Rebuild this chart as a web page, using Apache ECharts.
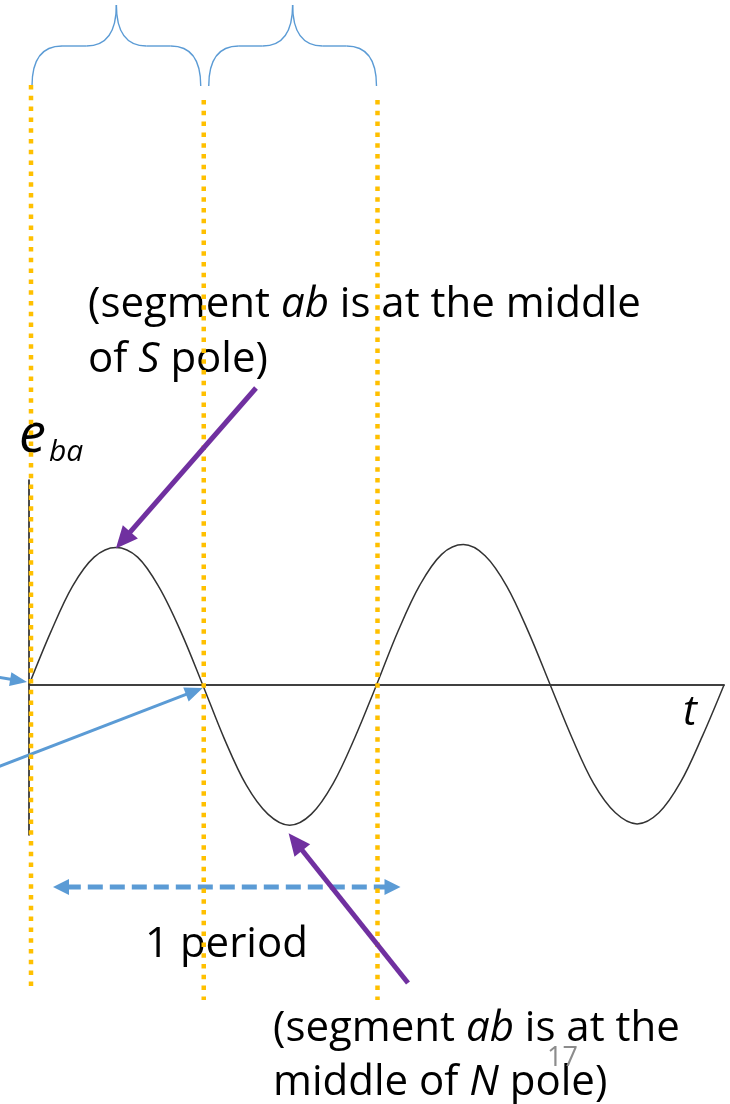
<!DOCTYPE html>
<html>
<head>
<meta charset="utf-8">
<script src="https://cdn.jsdelivr.net/npm/echarts@6/dist/echarts.min.js"></script>
<style>
  html, body { margin: 0; padding: 0; background: #fff; }
  #chart { width: 730px; height: 1104px; }
</style>
</head>
<body>
<div id="chart"></div>
<script>
// Rotation angle of the conductor (degrees) and induced emf e_ba (per-unit of peak)
const angleDeg = [0, 22.5, 45, 67.5, 90, 112.5, 135, 157.5, 180,
  202.5, 225, 247.5, 270, 292.5, 315, 337.5, 360,
  382.5, 405, 427.5, 450, 472.5, 495, 517.5, 540,
  562.5, 585, 607.5, 630, 652.5, 675, 697.5, 720];
const emf = [0, 0.38, 0.71, 0.92, 0.99, 0.92, 0.70, 0.38, 0,
  -0.39, -0.72, -0.93, -1.01, -0.93, -0.71, -0.38, 0,
  0.39, 0.72, 0.94, 1.01, 0.93, 0.71, 0.38, 0,
  -0.38, -0.71, -0.92, -1.0, -0.92, -0.70, -0.37, 0];

// Angles where the dotted guide lines sit (start, half period, full period)
const guideAngles = [0, 180, 360];
const peakAngle = 90;     // middle of S pole
const troughAngle = 270;  // middle of N pole

const FONT = '"Open Sans", Lato, sans-serif';
const BLUE = '#5B9BD5';
const PURPLE = '#7030A0';
const GOLD = '#FFC000';

const chart = echarts.init(document.getElementById('chart'));

chart.setOption({
  animation: false,
  backgroundColor: '#ffffff',
  grid: { left: 29, right: 6, top: 480, bottom: 269, containLabel: false },
  xAxis: {
    type: 'value', min: 0, max: 720,
    axisLine: { onZero: true, lineStyle: { color: '#404040', width: 2 } },
    axisTick: { show: false }, axisLabel: { show: false }, splitLine: { show: false }
  },
  yAxis: {
    type: 'value', min: -1.08, max: 1.475,
    axisLine: { show: true, onZero: false, lineStyle: { color: '#111', width: 1.5 } },
    axisTick: { show: false }, axisLabel: { show: false }, splitLine: { show: false }
  },
  series: [{
    type: 'line',
    data: angleDeg.map((a, i) => [a, emf[i]]),
    smooth: 0.35,
    showSymbol: false,
    lineStyle: { color: '#333', width: 1.5 },
    z: 2
  }]
});

const px = (a, v) => chart.convertToPixel({ gridIndex: 0 }, [a, v]);
const emfAt = a => emf[angleDeg.indexOf(a)];

// Straight arrow with filled head(s)
function arrow(x1, y1, x2, y2, color, width, headLen, headW, opts) {
  opts = opts || {};
  const els = [];
  const dx = x2 - x1, dy = y2 - y1, L = Math.hypot(dx, dy);
  const ux = dx / L, uy = dy / L, nx = -uy, ny = ux;
  const head = (tx, ty, sx, sy) => ({
    type: 'polygon', z: opts.z,
    shape: { points: [[tx, ty],
      [tx - sx * headLen + nx * headW / 2, ty - sy * headLen + ny * headW / 2],
      [tx - sx * headLen - nx * headW / 2, ty - sy * headLen - ny * headW / 2]] },
    style: { fill: color }
  });
  const sx1 = opts.both ? x1 + ux * headLen * 0.8 : x1;
  const sy1 = opts.both ? y1 + uy * headLen * 0.8 : y1;
  els.push({
    type: 'line', z: opts.z,
    shape: { x1: sx1, y1: sy1, x2: x2 - ux * headLen * 0.8, y2: y2 - uy * headLen * 0.8 },
    style: { stroke: color, lineWidth: width, lineDash: opts.dash || null, lineCap: 'butt' }
  });
  els.push(head(x2, y2, ux, uy));
  if (opts.both) els.push(head(x1, y1, -ux, -uy));
  return els;
}

// Curly brace spanning x0..x1, opening downward
function brace(x0, x1, yBot, yMid, yTop) {
  const xm = (x0 + x1) / 2;
  const st = { stroke: BLUE, lineWidth: 1.4, fill: null };
  const z = 5;
  return [
    { type: 'bezierCurve', z, shape: { x1: x0, y1: yBot, cpx1: x0, cpy1: yMid + 14, cpx2: x0 + 9, cpy2: yMid, x2: x0 + 30, y2: yMid }, style: st },
    { type: 'line', z, shape: { x1: x0 + 30, y1: yMid, x2: xm - 30, y2: yMid }, style: st },
    { type: 'bezierCurve', z, shape: { x1: xm - 30, y1: yMid, cpx1: xm - 10, cpy1: yMid, cpx2: xm, cpy2: yMid - 14, x2: xm, y2: yTop }, style: st },
    { type: 'bezierCurve', z, shape: { x1: xm, y1: yTop, cpx1: xm, cpy1: yMid - 14, cpx2: xm + 10, cpy2: yMid, x2: xm + 30, y2: yMid }, style: st },
    { type: 'line', z, shape: { x1: xm + 30, y1: yMid, x2: x1 - 30, y2: yMid }, style: st },
    { type: 'bezierCurve', z, shape: { x1: x1 - 30, y1: yMid, cpx1: x1 - 9, cpy1: yMid, cpx2: x1, cpy2: yMid + 14, x2: x1, y2: yBot }, style: st }
  ];
}

function text(x, y, str, size, extra) {
  extra = extra || {};
  return {
    type: 'text', x, y, z: extra.z || 10,
    style: {
      text: str, fontSize: size, fontFamily: FONT, fill: extra.fill || '#000',
      fontStyle: extra.italic ? 'italic' : 'normal',
      verticalAlign: 'middle', align: extra.align || 'left',
      rich: {
        i: { fontStyle: 'italic', fontSize: size, fontFamily: FONT, fill: '#000' }
      }
    }
  };
}

const g = [];
const [x0, y0] = px(0, 0);
const [xh, yh] = px(180, 0);
const [xp, yp0] = px(360, 0);
const [pkX, pkY] = px(peakAngle, emfAt(peakAngle));
const [trX, trY] = px(troughAngle, emfAt(troughAngle));

// Braces over each half period
g.push(...brace(x0 + 3, xh - 2, 86, 46, 5));
g.push(...brace(xh + 6, xp, 86, 46, 5));

// Dotted guide lines
const guideSpan = [[85, 990], [100, 1000], [100, 1000]];
guideAngles.forEach((a, i) => {
  const xx = px(a, 0)[0] + (i === 0 ? 2 : 1);
  g.push({
    type: 'line', z: 30,
    shape: { x1: xx, y1: guideSpan[i][0], x2: xx, y2: guideSpan[i][1] },
    style: { stroke: GOLD, lineWidth: 4.5, lineDash: [4.5, 6.3], lineCap: 'butt' }
  });
});

// Texts
const TS = 42;
g.push(text(88, 305, '(segment {i|ab} is at the middle', TS));
g.push(text(88, 360, 'of {i|S} pole)', TS));
g.push(text(19, 437, 'e', 54, { italic: true }));
g.push(text(49, 452, 'ba', 30, { italic: true }));
g.push(text(683, 713, 't', 42, { italic: true }));
g.push(text(145, 945, '1 period', TS));
g.push(text(273, 1029, '(segment {i|ab} is at the', TS));
g.push(text(273, 1083, 'middle of {i|N} pole)', TS));
g.push(text(547, 1058, '17', 27, { fill: '#8c8c8c', z: 12 }));

// Blue pointers to the zero crossings
g.push(...arrow(-40, 671, x0 - 2, y0 - 3, BLUE, 3, 17, 14, { z: 20 }));
g.push(...arrow(-10, 770, xh, yh + 3, BLUE, 3, 18, 15, { z: 20 }));

// One-period dimension arrow
g.push(...arrow(x0 + 24, 887, xp + 24, 887, BLUE, 5, 16, 16, { z: 20, both: true, dash: [15, 7] }));

// Purple pointers to the peak and trough
g.push(...arrow(256, 388, pkX, pkY + 1, PURPLE, 5, 22, 20, { z: 40 }));
g.push(...arrow(408, 983, trX - 1, trY + 8, PURPLE, 5, 22, 20, { z: 40 }));

chart.setOption({ graphic: { elements: g } });
</script>
</body>
</html>
